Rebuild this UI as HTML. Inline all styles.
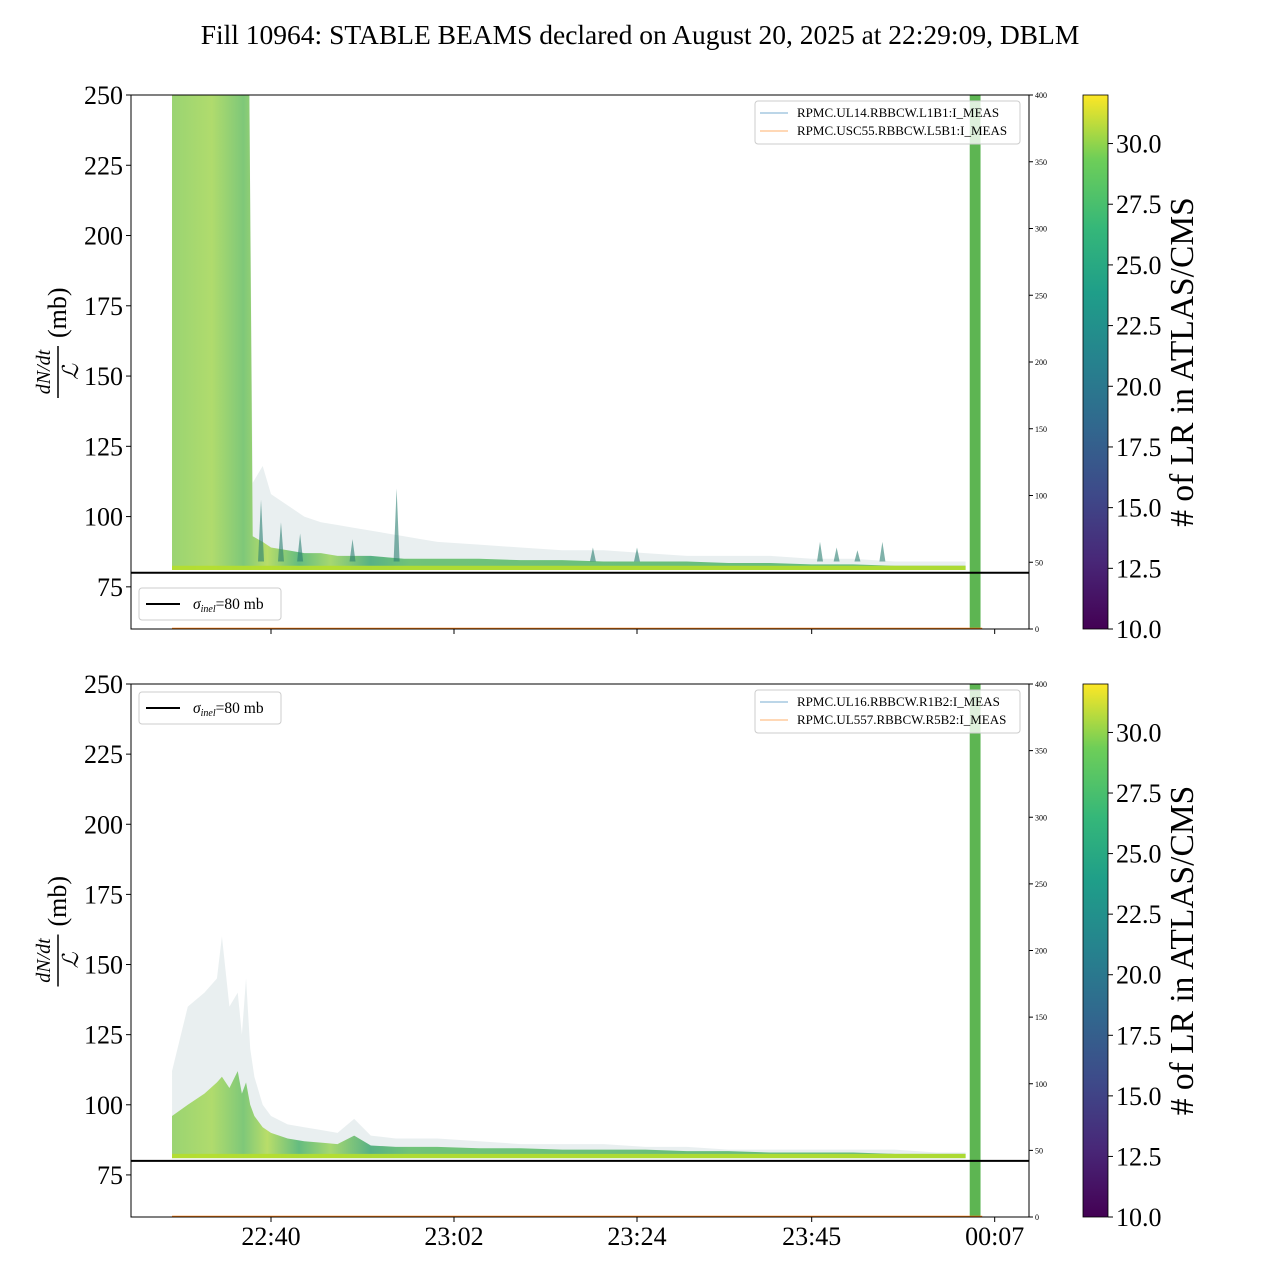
<!DOCTYPE html>
<html><head><meta charset="utf-8"><style>
body{margin:0;background:#fff}
svg{display:block;font-family:"Liberation Serif",serif}
</style></head><body>
<svg id="fig" width="1280" height="1280" viewBox="0 0 1280 1280">
<defs>
<linearGradient id="vir" x1="0" y1="1" x2="0" y2="0">
<stop offset="0" stop-color="#440154"/><stop offset="0.13" stop-color="#482878"/><stop offset="0.25" stop-color="#3e4989"/><stop offset="0.38" stop-color="#31688e"/><stop offset="0.5" stop-color="#26828e"/><stop offset="0.63" stop-color="#1f9e89"/><stop offset="0.75" stop-color="#35b779"/><stop offset="0.88" stop-color="#6ece58"/><stop offset="1" stop-color="#fde725"/>
</linearGradient>
<linearGradient id="dense" x1="0" y1="0" x2="1" y2="0">
<stop offset="0" stop-color="#8ccf5c"/><stop offset="0.05" stop-color="#a6d856"/><stop offset="0.09" stop-color="#6cc164"/><stop offset="0.12" stop-color="#b0da52"/><stop offset="0.16" stop-color="#4db36c"/><stop offset="0.2" stop-color="#9ad45a"/><stop offset="0.25" stop-color="#3fa672"/><stop offset="0.3" stop-color="#5cbb64"/><stop offset="1" stop-color="#4ab06a"/>
</linearGradient>
<clipPath id="c1"><rect x="131" y="95" width="898" height="534"/></clipPath>
<clipPath id="c2"><rect x="131" y="684" width="898" height="533"/></clipPath>
</defs>
<text x="640" y="44" font-size="27.5" text-anchor="middle">Fill 10964: STABLE BEAMS declared on August 20, 2025 at 22:29:09, DBLM</text>
<g id="p1"></g>
<g id="p2"></g>
</svg>
<script>
// shared data
const xTickLabels = ["22:40","23:02","23:24","23:45","00:07"];
const xTickMinutes = [0,22,44,65,87];
const yTicks = [75,100,125,150,175,200,225,250];
const rightTicks = [0,50,100,150,200,250,300,350,400];
const cbTicks = [10.0,12.5,15.0,17.5,20.0,22.5,25.0,27.5,30.0];
const sigmaInel = 80;
const greenBand = [84.0, 85.3];
// top panel series
const tTimes = [-11.9,-10,-8,-6,-4.5,-3.5,-2.6,-2.2,-1,0,2,4,6,8,10,12,14,16,18,20,25,30,35,40,45,50,55,60,65,70,75,80,83.5];
const tLight = [250,250,250,250,250,250,250,112,118,108,104,100,98,97,96,95,94,93,92,91,90,89,88,88,87,86,86,86,85,85,84,84,84];
const tDense = [250,250,250,250,250,250,250,93,91,89,88,87,87,86,86,86,85.5,85,85,85,85,84.5,84.5,84,84,84,83.5,83.5,83,83,82.5,82.5,82.5];
const tLow = [81,81,81,81,81,81,81,81,81,81,81,81,81,81,81,81,81,81,81,81,81,81,81,81,81,81,81,81,81,81,81,81,81];
const tSpikeT = [-1.2,1.2,3.5,9.8,15.1,38.7,44,66,68,70.5,73.5];
const tSpikeV = [106,98,94,92,110,89,89,91,89,88,91];
// bottom panel series
const bTimes = [-11.9,-10,-8,-6.5,-5.9,-5,-4,-3.5,-3,-2.5,-2,-1,0,2,4,6,8,10,12,15,20,25,30,35,40,45,50,55,60,65,70,75,80,83.5];
const bLight = [112,135,140,145,160,135,140,125,145,120,110,100,96,93,92,91,90,95,89,88,88,87,86,86,86,85,85,84,84,84,84,84,83,83];
const bDense = [96,100,104,108,110,106,112,104,108,100,96,92,90,88,87,86.5,86,89,85.5,85,85,84.5,84.5,84,84,84,83.5,83.5,83,83,83,82.5,82.5,82.5];
const bLow = [81,81,81,81,81,81,81,81,81,81,81,81,81,81,81,81,81,81,81,81,81,81,81,81,81,81,81,81,81,81,81,81,81,81];

const NS="http://www.w3.org/2000/svg";
function mk(tag,attrs,parent){const e=document.createElementNS(NS,tag);for(const k in attrs)e.setAttribute(k,attrs[k]);parent.appendChild(e);return e;}
const X0=131,X1=1029;
function xs(m){return 271+m*(183/22);}
function ysF(top,bot){return v=>bot-(v-60)*(bot-top)/190;}

function band(g,times,up,lo,ys,fill,op){
  let d="M"+xs(times[0])+","+ys(up[0]);
  for(let i=1;i<times.length;i++)d+="L"+xs(times[i])+","+ys(up[i]);
  for(let i=times.length-1;i>=0;i--)d+="L"+xs(times[i])+","+ys(lo[i]);
  return mk("path",{d:d+"Z",fill:fill,"fill-opacity":op},g);
}

function panel(gid,top,bot,clip,times,light,dense,low,legendNames,sigmaTop,spT,spV){
  const g=document.getElementById(gid);
  const ys=ysF(top,bot);
  const cg=mk("g",{"clip-path":"url(#"+clip+")"},g);
  const l=band(cg,times,light,low,ys,"#a9bfc4",0.25);
  
  
  const d=band(cg,times,dense,low,ys,"url(#dense)",0.85);
  
  
  const lowTop=low.map((v,i)=>Math.min(dense[i],v+1.5));
  const y=band(cg,times,lowTop,low,ys,"#b5de2b",0.9);
  
  
  if(spT){for(let i=0;i<spT.length;i++){const sx=xs(spT[i]);
    const s=mk("path",{d:`M${sx-3},${ys(84)}L${sx},${ys(spV[i])}L${sx+3},${ys(84)}Z`,fill:"#2c7e72","fill-opacity":0.6},cg);
    
    }}
  const gb=mk("rect",{x:xs(greenBand[0]),y:top,width:xs(greenBand[1])-xs(greenBand[0]),height:bot-top,fill:"#5db552"},cg);
  
  
  const ol=mk("line",{x1:xs(times[0]),x2:xs(85.5),y1:bot-0.5,y2:bot-0.5,stroke:"#ff7f0e","stroke-width":1.5},cg);
  
  
  const sl=mk("line",{x1:X0,x2:X1,y1:ys(sigmaInel),y2:ys(sigmaInel),stroke:"#000","stroke-width":2},g);
  
  
  const fr=mk("rect",{x:X0,y:top,width:X1-X0,height:bot-top,fill:"none",stroke:"#000","stroke-width":1},g);
  
  
  yTicks.forEach(v=>{const yy=ys(v);
    mk("line",{x1:X0-5,x2:X0,y1:yy,y2:yy,stroke:"#000"},g);
    const t=mk("text",{x:X0-8,y:yy+9,"font-size":26,"text-anchor":"end"},g);t.textContent=v;
    
    });
  rightTicks.forEach(v=>{const yy=bot-v*(bot-top)/400;
    mk("line",{x1:X1,x2:X1+4,y1:yy,y2:yy,stroke:"#000"},g);
    const t=mk("text",{x:X1+6,y:yy+3,"font-size":8},g);t.textContent=v;
    
    });
  xTickMinutes.forEach(m=>{mk("line",{x1:xs(m),x2:xs(m),y1:bot,y2:bot+5,stroke:"#000"},g);});
  const yl=mk("g",{transform:`translate(58,${(top+bot)/2}) rotate(-90)`},g);
  
  
  const a=mk("text",{x:-10,y:-8,"font-size":20,"font-style":"italic","text-anchor":"middle"},yl);a.textContent="dN/dt";
  mk("line",{x1:-36,x2:16,y1:0,y2:0,stroke:"#000","stroke-width":1.5},yl);
  const b=mk("text",{x:-10,y:20,"font-size":22,"font-style":"italic","text-anchor":"middle"},yl);b.textContent="ℒ";
  const c=mk("text",{x:24,y:8,"font-size":26},yl);c.textContent="(mb)";
  const lg=mk("g",{},g);
  
  
  mk("rect",{x:755,y:top+6,width:265,height:43,rx:3,fill:"#fff","fill-opacity":0.8,stroke:"#ccc"},lg);
  const cols=["#1f77b4","#ff7f0e"];
  legendNames.forEach((n,i)=>{const yy=top+18+i*18;
    mk("line",{x1:760,x2:788,y1:yy,y2:yy,stroke:cols[i],"stroke-opacity":0.6},lg);
    const t=mk("text",{x:797,y:yy+4,"font-size":13},lg);t.textContent=n;
    
    });
  const sg=mk("g",{},g);
  
  
  mk("rect",{x:139,y:sigmaTop,width:142,height:32,rx:3,fill:"#fff","fill-opacity":0.8,stroke:"#ccc"},sg);
  mk("line",{x1:146,x2:180,y1:sigmaTop+16,y2:sigmaTop+16,stroke:"#000","stroke-width":2},sg);
  const st=mk("text",{x:193,y:sigmaTop+21,"font-size":15.5},sg);
  st.innerHTML='<tspan font-style="italic">σ</tspan><tspan font-style="italic" font-size="10" dy="3">inel</tspan><tspan dy="-3">=80 mb</tspan>';
  const cb=mk("g",{},g);
  
  
  mk("rect",{x:1083,y:top,width:25,height:bot-top,fill:"url(#vir)",stroke:"#000","stroke-width":0.8},cb);
  cbTicks.forEach(v=>{const yy=bot-(v-10)*(bot-top)/22;
    mk("line",{x1:1108,x2:1113,y1:yy,y2:yy,stroke:"#000"},cb);
    const t=mk("text",{x:1116,y:yy+9,"font-size":26},cb);t.textContent=v.toFixed(1);
    
    });
  const ct=mk("text",{x:0,y:0,"font-size":33.5,"text-anchor":"middle",transform:`translate(1193,${(top+bot)/2}) rotate(-90)`},cb);
  ct.textContent="# of LR in ATLAS/CMS";
  
  
}
panel("p1",95,629,"c1",tTimes,tLight,tDense,tLow,["RPMC.UL14.RBBCW.L1B1:I_MEAS","RPMC.USC55.RBBCW.L5B1:I_MEAS"],588,tSpikeT,tSpikeV);
panel("p2",684,1217,"c2",bTimes,bLight,bDense,bLow,["RPMC.UL16.RBBCW.R1B2:I_MEAS","RPMC.UL557.RBBCW.R5B2:I_MEAS"],692,null,null);
const p2=document.getElementById("p2");
xTickMinutes.forEach((m,i)=>{const t=mk("text",{x:xs(m),y:1245,"font-size":26,"text-anchor":"middle"},p2);t.textContent=xTickLabels[i];
  
  });
</script>
</body></html>
